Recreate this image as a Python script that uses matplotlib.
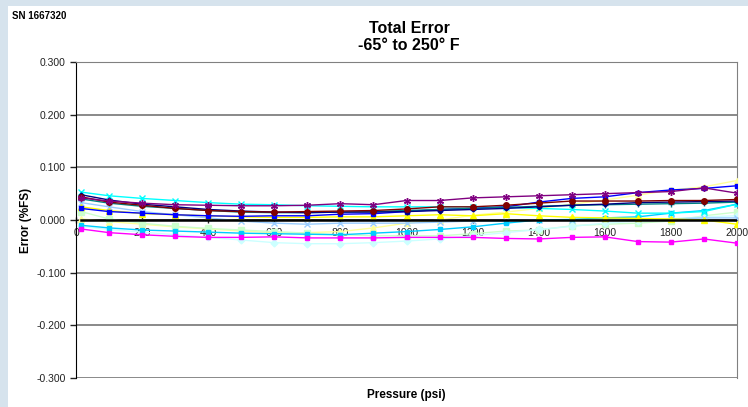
import matplotlib
matplotlib.use("Agg")
import matplotlib.pyplot as plt
from matplotlib.ticker import FormatStrFormatter

plt.rcParams['font.family'] = ['Liberation Sans', 'DejaVu Sans']

pressure = [15] + list(range(100, 2001, 100))

navy = [0.048, 0.038, 0.030, 0.025, 0.020, 0.017, 0.015, 0.014, 0.015, 0.015, 0.016,
        0.018, 0.020, 0.022, 0.025, 0.028, 0.030, 0.033, 0.034, 0.035, 0.036]
magenta = [-0.017, -0.024, -0.028, -0.031, -0.033, -0.033, -0.032, -0.034, -0.034, -0.034, -0.033,
           -0.033, -0.033, -0.035, -0.036, -0.033, -0.032, -0.041, -0.042, -0.036, -0.044]
yellow = [0.025, 0.018, 0.012, 0.010, 0.008, 0.006, 0.005, 0.005, 0.006, 0.006, 0.008,
          0.010, 0.008, 0.012, 0.008, 0.005, 0.004, 0.003, 0.002, 0.000, -0.008]
cyan = [0.053, 0.046, 0.041, 0.037, 0.033, 0.030, 0.029, 0.027, 0.026, 0.025, 0.025,
        0.025, 0.025, 0.024, 0.022, 0.020, 0.017, 0.013, 0.013, 0.016, 0.030]
purple = [0.042, 0.036, 0.032, 0.029, 0.028, 0.027, 0.027, 0.028, 0.031, 0.029, 0.037,
          0.037, 0.042, 0.044, 0.046, 0.048, 0.050, 0.052, 0.054, 0.061, 0.051]
maroon = [0.044, 0.034, 0.028, 0.022, 0.018, 0.016, 0.015, 0.016, 0.017, 0.018, 0.021,
          0.025, 0.025, 0.028, 0.032, 0.036, 0.036, 0.036, 0.037, 0.037, 0.039]
teal = [0.040, 0.032, 0.026, 0.022, 0.018, 0.015, 0.014, 0.014, 0.015, 0.016, 0.018,
        0.020, 0.022, 0.024, 0.026, 0.028, 0.029, 0.030, 0.031, 0.032, 0.034]
blue = [0.022, 0.016, 0.013, 0.010, 0.008, 0.007, 0.008, 0.008, 0.011, 0.012, 0.016,
        0.020, 0.022, 0.025, 0.034, 0.041, 0.044, 0.052, 0.057, 0.060, 0.065]
skyblue = [-0.010, -0.015, -0.019, -0.021, -0.023, -0.025, -0.026, -0.027, -0.028, -0.025, -0.022,
           -0.018, -0.013, -0.006, 0.000, 0.001, 0.004, 0.006, 0.013, 0.018, 0.030]
lightcyan = [-0.012, -0.018, -0.023, -0.028, -0.033, -0.038, -0.043, -0.045, -0.045, -0.043, -0.040,
             -0.036, -0.030, -0.024, -0.018, -0.012, -0.006, -0.002, 0.002, 0.006, 0.008]
lightgreen = [0.016, 0.002, -0.006, -0.012, -0.016, -0.019, -0.022, -0.025, -0.028, -0.030, -0.030,
              -0.030, -0.026, -0.021, -0.019, -0.011, -0.008, -0.006, -0.002, 0.008, 0.015]
paleyellow = [0.002, -0.003, -0.008, -0.013, -0.017, -0.021, -0.024, -0.024, -0.022, -0.015, -0.006,
              0.000, 0.009, 0.015, 0.022, 0.030, 0.038, 0.047, 0.057, 0.063, 0.075]
paleblue = [0.033, 0.025, 0.016, 0.010, 0.004, -0.002, -0.006, -0.008, -0.006, -0.006, -0.006,
            -0.004, -0.002, -0.002, 0.000, 0.000, 0.002, 0.002, 0.002, 0.004, 0.004]
black = [0.000] * 21

series = [
    (paleyellow, '#FFFF99', '^', 4),
    (lightgreen, '#CCFFCC', 's', 4),
    (lightcyan, '#CCFFFF', 'D', 3.5),
    (paleblue, '#99CCFF', 'x', 4),
    (skyblue, '#00CCFF', 's', 3.5),
    (magenta, '#FF00FF', 's', 3.5),
    (yellow, '#FFFF00', '^', 4),
    (cyan, '#00FFFF', 'x', 4.5),
    (blue, '#0000FF', 's', 2.5),
    (teal, '#008080', '+', 4.5),
    (navy, '#000080', 'D', 2.5),
    (maroon, '#800000', 'o', 4),
    (purple, '#800080', (6, 2, 0), 5),
]

fig = plt.figure(figsize=(7.48, 4.07), dpi=100)
fig.patch.set_facecolor('#d6e3ed')
# white chart panel
fig.add_artist(plt.Rectangle((8 / 748, 0), 1, 1 - 6 / 407, transform=fig.transFigure,
                             facecolor='white', edgecolor='none', zorder=0))

ax = fig.add_axes([76 / 748, 1 - 378 / 407, (737 - 76) / 748, (378 - 62) / 407])
ax.set_facecolor('white')

for ys, col, mk, ms in series:
    ax.plot(pressure, ys, color=col, marker=mk, markersize=ms, linewidth=1,
            markeredgewidth=1, zorder=3)
ax.plot(pressure, black, color='black', linewidth=1.8, zorder=4)

ax.set_xlim(0, 2000)
ax.set_ylim(-0.3, 0.3)
ax.set_xticks(range(0, 2001, 200))
ax.set_yticks([-0.3, -0.2, -0.1, 0.0, 0.1, 0.2, 0.3])
ax.yaxis.set_major_formatter(FormatStrFormatter('%.3f'))
ax.grid(axis='y', color='#808080', linewidth=1.3, zorder=1)

ax.spines['bottom'].set_position(('data', 0))
ax.spines['bottom'].set_color('black')
ax.spines['top'].set_color('#808080')
ax.spines['right'].set_color('#808080')
ax.spines['left'].set_color('black')
ax.tick_params(axis='both', labelsize=7.5, colors='#222222', length=4, width=1)
ax.tick_params(axis='x', direction='inout', pad=3, length=5)

ax.set_ylabel('Error (%FS)', fontsize=8.5, fontweight='bold', labelpad=3)
ax.set_xlabel('Pressure (psi)', fontsize=8.5, fontweight='bold')
ax.xaxis.set_label_coords(0.5, -0.035)

fig.text(409 / 748, 1 - 37 / 407, 'Total Error\n-65° to 250° F', ha='center', va='center',
         fontsize=11.5, fontweight='bold', linespacing=1.15)
fig.text(12 / 748, 1 - 16 / 407, 'SN 1667320', ha='left', va='center', fontsize=7,
         fontweight='bold')

fig.savefig('out.png', dpi=100, facecolor=fig.get_facecolor())
